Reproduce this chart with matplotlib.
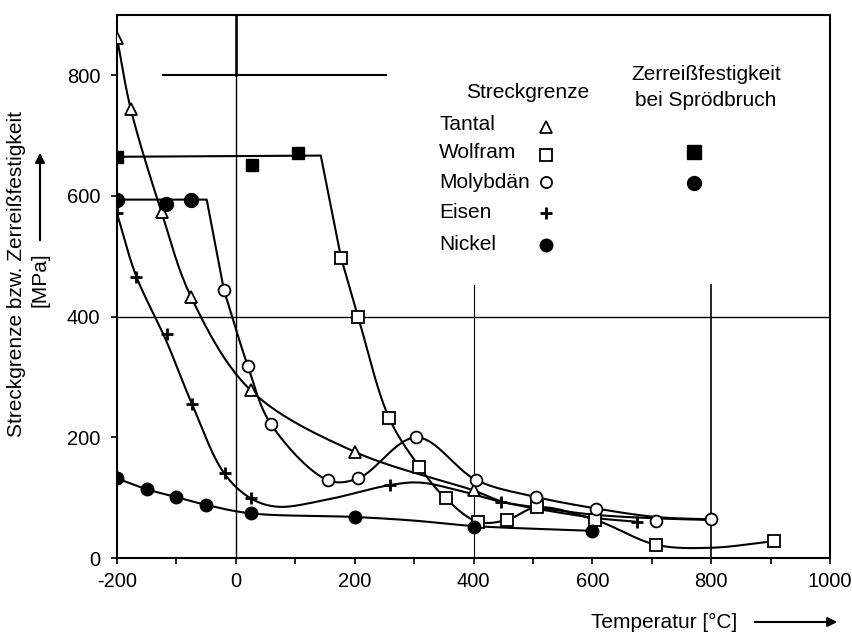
import numpy as np
import matplotlib
matplotlib.use("Agg")
import matplotlib.pyplot as plt
from matplotlib.lines import Line2D
from matplotlib.patches import FancyArrowPatch

plt.rcParams['font.family'] = ['Liberation Sans', 'DejaVu Sans']
plt.rcParams['axes.unicode_minus'] = False

# ---------------- data ----------------
# Tantal (yield strength, open triangles)
ta_T = [-200, -177, -125, -75, 25, 200, 400]
ta_v = [862, 745, 573, 432, 278, 176, 112]
ta_curve_T = [-200, -177, -125, -75, 25, 200, 400, 450, 507, 600, 700, 800]
ta_curve_v = [862, 745, 573, 432, 278, 176, 112, 93, 84, 72, 66, 63]

# Wolfram (yield strength, open squares)
w_T = [177, 206, 258, 309, 353, 407, 456, 507, 605, 707, 906]
w_v = [498, 399, 232, 151, 99, 60, 63, 84, 63, 22, 28]
w_flat_T = [-200, 143, 177]
w_flat_v = [665, 667, 498]
w_curve_T = [177, 206, 258, 309, 353, 407, 456, 507, 605, 707, 800, 906]
w_curve_v = [498, 399, 232, 151, 99, 60, 63, 84, 63, 22, 17, 28]

# Molybdaen (yield strength, open circles)
mo_T = [-20, 20, 59, 155, 206, 304, 405, 506, 607, 707, 800]
mo_v = [444, 319, 222, 129, 132, 200, 129, 101, 82, 62, 64]
mo_flat_T = [-200, -49, -20]
mo_flat_v = [594, 594, 444]
mo_curve_T = [-20, 20, 59, 155, 206, 304, 405, 506, 607, 707, 800]
mo_curve_v = [444, 319, 222, 129, 132, 200, 129, 101, 82, 68, 64]

# Eisen (yield strength, plus)
fe_T = [-200, -168, -116, -74, -18, 26, 260, 447, 675]
fe_v = [571, 466, 372, 256, 141, 99, 121, 93, 60]
fe_curve_T = [-200, -168, -118, -75, -20, 25, 70, 150, 260, 310, 375, 447, 600, 675]
fe_curve_v = [571, 468, 362, 258, 141, 99, 85, 96, 121, 125, 112, 93, 67, 60]

# Nickel (filled circles)
ni_T = [-200, -150, -100, -50, 25, 200, 400, 600]
ni_v = [132, 114, 101, 88, 74, 68, 51, 45]
ni_curve_T = [-200, -150, -100, -50, 25, 200, 300, 400, 600]
ni_curve_v = [132, 114, 101, 88, 74, 68, 62, 53, 45]

# Zerreissfestigkeit bei Sproedbruch
w_brittle_T = [-200, 27, 104]
w_brittle_v = [665, 651, 671]
mo_brittle_T = [-200, -118, -76]
mo_brittle_v = [594, 586, 593]

x_ticks = [-200, 0, 200, 400, 600, 800, 1000]
y_ticks = [0, 200, 400, 600, 800]

legend_names = ["Tantal", "Wolfram", "Molybdän", "Eisen", "Nickel"]

SX, SY = 0.5925, 0.604  # px per unit, used only to smooth in screen space


def catmull(xs, ys, n=40, alpha=0.5):
    P = np.column_stack([np.asarray(xs, float) * SX, np.asarray(ys, float) * SY])
    P = np.vstack([2 * P[0] - P[1], P, 2 * P[-1] - P[-2]])
    out = []
    for i in range(1, len(P) - 2):
        p0, p1, p2, p3 = P[i - 1], P[i], P[i + 1], P[i + 2]
        t0 = 0.0
        t1 = t0 + np.linalg.norm(p1 - p0) ** alpha
        t2 = t1 + np.linalg.norm(p2 - p1) ** alpha
        t3 = t2 + np.linalg.norm(p3 - p2) ** alpha
        t = np.linspace(t1, t2, n)[:, None]
        A1 = (t1 - t) / (t1 - t0) * p0 + (t - t0) / (t1 - t0) * p1
        A2 = (t2 - t) / (t2 - t1) * p1 + (t - t1) / (t2 - t1) * p2
        A3 = (t3 - t) / (t3 - t2) * p2 + (t - t2) / (t3 - t2) * p3
        B1 = (t2 - t) / (t2 - t0) * A1 + (t - t0) / (t2 - t0) * A2
        B2 = (t3 - t) / (t3 - t1) * A2 + (t - t1) / (t3 - t1) * A3
        C = (t2 - t) / (t2 - t1) * B1 + (t - t1) / (t2 - t1) * B2
        out.append(C if i == len(P) - 3 else C[:-1])
    s = np.vstack(out)
    return s[:, 0] / SX, s[:, 1] / SY


W, H = 853, 639
fig = plt.figure(figsize=(W / 100, H / 100), dpi=100)


def fx(px):
    return px / W


def fy(py):
    return 1 - py / H


ax = fig.add_axes([fx(117), fy(558), (830 - 117) / W, (558 - 15) / H])
ax.set_xlim(-200, 1000)
ax.set_ylim(0, 900)

LW = 1.5
k = 'black'

# reference lines
ax.axvline(0, color=k, lw=1.0, zorder=1)
ax.plot([0, 0], [800, 900], color=k, lw=1.8, zorder=1)
ax.axhline(400, color=k, lw=1.0, zorder=1)
ax.plot([-123, 253], [800, 800], color=k, lw=1.5, zorder=1)
ax.plot([400, 400], [0, 452], color=k, lw=0.8, zorder=1)
ax.plot([800, 800], [0, 452], color=k, lw=1.2, zorder=1)

# curves
for cT, cv in [(ta_curve_T, ta_curve_v), (w_curve_T, w_curve_v), (mo_curve_T, mo_curve_v),
               (fe_curve_T, fe_curve_v), (ni_curve_T, ni_curve_v)]:
    sx, sy = catmull(cT, cv)
    ax.plot(sx, sy, color=k, lw=LW, zorder=2)
ax.plot(w_flat_T, w_flat_v, color=k, lw=LW, zorder=2)
ax.plot(mo_flat_T, mo_flat_v, color=k, lw=LW, zorder=2)

mk = dict(color=k, linestyle='none', zorder=3)
ax.plot(ta_T, ta_v, marker='^', ms=8, mfc='white', mec=k, mew=1.3, **mk)
ax.plot(w_T, w_v, marker='s', ms=8, mfc='white', mec=k, mew=1.3, **mk)
ax.plot(mo_T, mo_v, marker='o', ms=8.5, mfc='white', mec=k, mew=1.3, **mk)
ax.plot(fe_T, fe_v, marker='+', ms=9, mew=2.0, **mk)
ax.plot(ni_T, ni_v, marker='o', ms=9, mfc=k, mec=k, **mk)
ax.plot(w_brittle_T, w_brittle_v, marker='s', ms=9, mfc=k, mec=k, **mk)
ax.plot(mo_brittle_T, mo_brittle_v, marker='o', ms=10, mfc=k, mec=k, **mk)

# axes styling
for sp in ax.spines.values():
    sp.set_linewidth(1.5)
ax.set_xticks(x_ticks)
ax.set_xticks(np.arange(-200, 1001, 100), minor=True)
ax.set_yticks(y_ticks)
ax.tick_params(which='both', direction='out', length=4, width=1.2, labelsize=14.5, pad=6)
ax.tick_params(axis='y', pad=8)

# legend block (manual)
fs = 15
fig.text(fx(528), fy(92), "Streckgrenze", ha='center', va='center', fontsize=fs)
lab_y = [124, 153, 182, 213, 245]
for name, py in zip(legend_names, lab_y):
    fig.text(fx(439), fy(py), name, ha='left', va='center', fontsize=fs)
leg_styles = [dict(marker='^', ms=8, mfc='white', mec=k, mew=1.3),
              dict(marker='s', ms=8, mfc='white', mec=k, mew=1.3),
              dict(marker='o', ms=8, mfc='white', mec=k, mew=1.3),
              dict(marker='+', ms=9, mew=2.0, color=k),
              dict(marker='o', ms=9, mfc=k, mec=k)]
for st, py in zip(leg_styles, [127, 155, 182, 213, 245]):
    fig.add_artist(Line2D([fx(546)], [fy(py)], transform=fig.transFigure, linestyle='none', **st))
fig.text(fx(706), fy(75), "Zerreißfestigkeit", ha='center', va='center', fontsize=fs)
fig.text(fx(706), fy(101), "bei Sprödbruch", ha='center', va='center', fontsize=fs)
fig.add_artist(Line2D([fx(694)], [fy(152)], transform=fig.transFigure, linestyle='none',
                      marker='s', ms=10, mfc=k, mec=k))
fig.add_artist(Line2D([fx(694)], [fy(183)], transform=fig.transFigure, linestyle='none',
                      marker='o', ms=10, mfc=k, mec=k))

# axis labels with arrows
fig.text(fx(17), fy(274), "Streckgrenze bzw. Zerreißfestigkeit", rotation=90,
         ha='center', va='center', fontsize=fs)
fig.text(fx(40), fy(280), "[MPa]", rotation=90, ha='center', va='center', fontsize=fs)
fig.add_artist(FancyArrowPatch((fx(40), fy(243)), (fx(40), fy(150)),
               transform=fig.transFigure, arrowstyle='-|>', mutation_scale=14, lw=1.5, color=k))
fig.text(fx(664), fy(622), "Temperatur [°C]", ha='center', va='center', fontsize=fs)
fig.add_artist(FancyArrowPatch((fx(752), fy(622)), (fx(840), fy(622)),
               transform=fig.transFigure, arrowstyle='-|>', mutation_scale=14, lw=1.5, color=k))

fig.savefig("out.png", dpi=100)
